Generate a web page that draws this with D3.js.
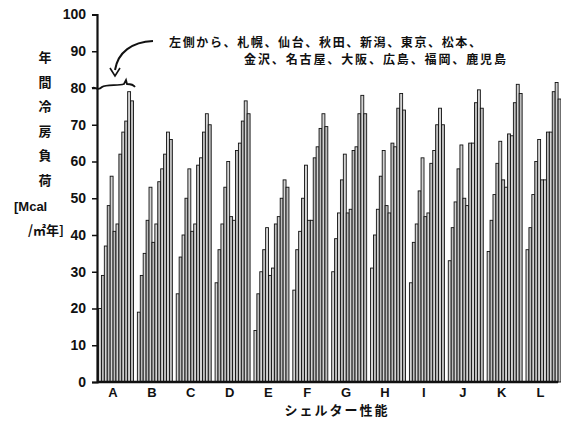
<!DOCTYPE html>
<html>
<head>
<meta charset="utf-8">
<script src="https://cdn.jsdelivr.net/npm/d3@7"></script>
<style>
  body { margin: 0; background: #fff; }
  text { font-family: "Liberation Sans", Arial, sans-serif; font-weight: bold; fill: #111; }
  .jp { font-family: "Noto Sans CJK JP", sans-serif; font-weight: bold; }
</style>
</head>
<body>
<div class="chart"></div>
<script>
// groups (shelter performance) and cities, left to right inside each group
const groups = ["A", "B", "C", "D", "E", "F", "G", "H", "I", "J", "K", "L"];
const cities = ["札幌", "仙台", "秋田", "新潟", "東京", "松本", "金沢", "名古屋", "大阪", "広島", "福岡", "鹿児島"];
// annual cooling load [Mcal/m2 year], one array per group, city order as above
const loadA = [20, 29, 37, 48, 56, 41, 43, 62, 68, 71, 79, 76.5];
const loadB = [19, 29, 35, 44, 53, 38, 43, 54.5, 58, 62, 68, 66];
const loadC = [24, 34, 40, 50, 58, 41, 43, 59, 61, 68, 73, 70];
const loadD = [27, 36, 43, 53, 60, 45, 44, 63, 65, 71, 76.5, 73];
const loadE = [14, 24, 30, 36, 42, 29, 31, 43, 45, 50, 55, 53];
const loadF = [25, 36, 41, 50, 59, 44, 44, 61, 64, 69, 73, 69.5];
const loadG = [30, 39, 46, 55, 62, 46, 47, 63, 64, 73, 78, 73];
const loadH = [31, 40, 47, 56, 63, 48, 46, 65, 64, 74.5, 78.5, 74];
const loadI = [27, 38, 43, 52, 61, 45, 46, 59.5, 63, 70, 74.5, 70];
const loadJ = [33, 42, 49, 58, 64.5, 50, 48, 65, 65, 76, 79.5, 74.5];
const loadK = [35.5, 44, 51, 59.5, 65.5, 55, 53, 67.5, 67, 76, 81, 78.5];
const loadL = [36, 42, 51, 60, 66, 55, 55, 68, 68, 79, 81.5, 77];
const loads = [loadA, loadB, loadC, loadD, loadE, loadF, loadG, loadH, loadI, loadJ, loadK, loadL];
const yTicks = [0, 10, 20, 30, 40, 50, 60, 70, 80, 90, 100];

const W = 561, H = 425;
const svg = d3.select(".chart").append("svg")
    .attr("width", W)
    .attr("height", H);

// scales
const x0 = d3.scaleBand().domain(groups).range([98.5, 561]).paddingInner(0.1).paddingOuter(0);
const x1 = d3.scaleBand().domain(cities).range([0, x0.bandwidth()]).padding(0);
const y = d3.scaleLinear().domain([0, 100]).range([382, 14.5]);

// flatten into a table
const rows = [];
groups.forEach((g, i) => cities.forEach((c, j) => rows.push({ group: g, city: c, value: loads[i][j] })));

// bars
svg.append("g").selectAll("rect").data(rows).join("rect")
    .attr("x", d => x0(d.group) + x1(d.city))
    .attr("y", d => y(d.value))
    .attr("width", x1.bandwidth())
    .attr("height", d => y(0) - y(d.value))
    .attr("fill", (d, i) => i % 2 ? "#bdbdbd" : "#d4d4d4")
    .attr("stroke", "#111")
    .attr("stroke-width", 0.9);

// y axis
const yAxis = svg.append("g")
    .attr("transform", "translate(97,0)")
    .call(d3.axisLeft(y).tickValues(yTicks).tickSize(5).tickPadding(6));
yAxis.select(".domain").attr("stroke", "#111").attr("stroke-width", 2.2);
yAxis.selectAll(".tick line").attr("stroke", "#111").attr("stroke-width", 1.5);
yAxis.selectAll(".tick text").style("font-size", "14px").attr("fill", "#111");

// x axis
const xAxis = svg.append("g")
    .attr("transform", "translate(0,382)")
    .call(d3.axisBottom(x0).tickSize(0).tickPadding(6));
xAxis.select(".domain").attr("d", "M97,0H558").attr("stroke", "#111").attr("stroke-width", 2.5);
xAxis.selectAll(".tick text").style("font-size", "13px").attr("fill", "#111")
    .attr("dx", -3);

// axis titles
const yTitle = ["年", "間", "冷", "房", "負", "荷"];
svg.append("g").selectAll("text").data(yTitle).join("text")
    .attr("class", "jp")
    .attr("x", 45)
    .attr("y", (d, i) => 62 + i * 24.6)
    .attr("text-anchor", "middle")
    .style("font-size", "13px")
    .text(d => d);
svg.append("text").attr("x", 14).attr("y", 211).style("font-size", "13px").text("[Mcal");
svg.append("text").attr("class", "jp").attr("x", 28).attr("y", 235).style("font-size", "13px").text("/㎡年]");

svg.append("text")
    .attr("class", "jp")
    .attr("x", 337)
    .attr("y", 415)
    .attr("text-anchor", "middle")
    .style("font-size", "13px")
    .style("letter-spacing", "2px")
    .text("シェルター性能");

// annotation
svg.append("text").attr("class", "jp").attr("x", 169).attr("y", 47)
    .style("font-size", "12px")
    .attr("textLength", 312).attr("lengthAdjust", "spacing")
    .text("左側から、札幌、仙台、秋田、新潟、東京、松本、");
svg.append("text").attr("class", "jp").attr("x", 244).attr("y", 64)
    .style("font-size", "12px")
    .attr("textLength", 262).attr("lengthAdjust", "spacing")
    .text("金沢、名古屋、大阪、広島、福岡、鹿児島");

// arrow and brace
svg.append("path")
    .attr("d", "M153,41 C132,42 118,52 115,70")
    .attr("fill", "none").attr("stroke", "#111").attr("stroke-width", 2);
svg.append("path")
    .attr("d", "M110,68 L115,76 L120,68")
    .attr("fill", "none").attr("stroke", "#111").attr("stroke-width", 1.6);
svg.append("path")
    .attr("d", "M92,88 C96,86 97,92 102,87 C106,84 118,86 124,84 L126,80 L127,84 C130,84 133,84 135,87")
    .attr("fill", "none").attr("stroke", "#111").attr("stroke-width", 1.8);
</script>
</body>
</html>
